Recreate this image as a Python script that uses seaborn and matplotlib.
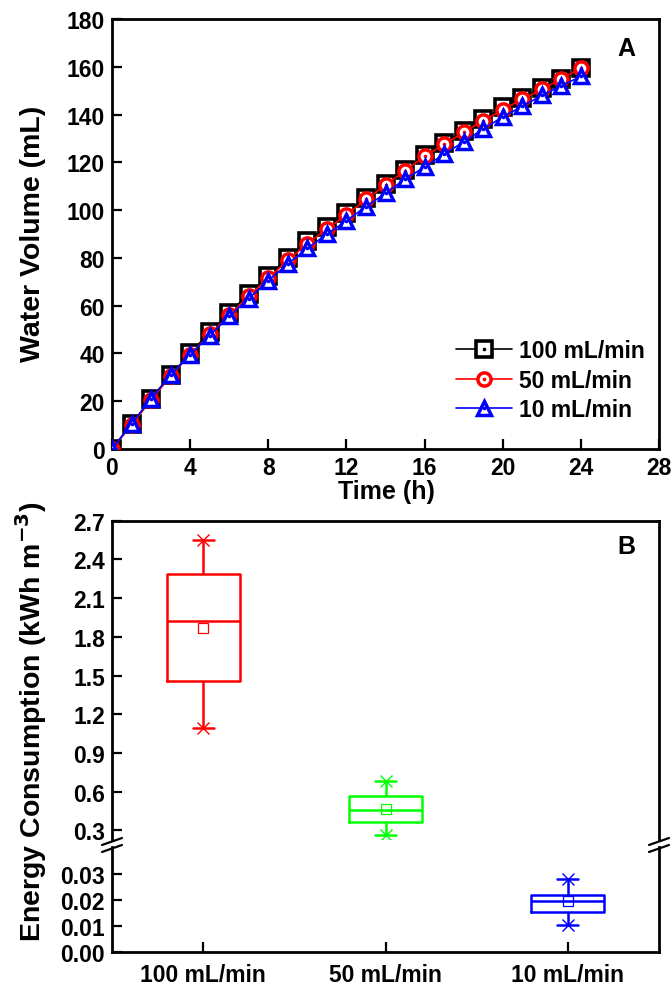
import numpy as np
import pandas as pd
import matplotlib
matplotlib.use("Agg")
import matplotlib.pyplot as plt
import seaborn as sns
from matplotlib.lines import Line2D
from matplotlib.legend_handler import HandlerTuple
from matplotlib.ticker import FormatStrFormatter

# ---------------- data ----------------
time_h = list(range(25))
vol_100 = [0, 10.5, 21, 31, 40, 49, 57, 65, 72.5, 80, 87, 93, 99, 105, 111,
           117, 123, 128, 133, 138, 143, 147, 151, 155, 159.5]
vol_50 = [0, 10, 20.5, 30.5, 39.5, 48, 56, 64, 71.5, 79, 86, 92, 98, 104.5,
          110.5, 116.5, 122.5, 127.5, 132.5, 137.5, 142, 146.5, 150.5, 155, 159.5]
vol_10 = [0, 10.5, 21, 31, 39.5, 47.5, 55.5, 63, 70.5, 77.5, 84, 90, 95.5,
          101.5, 107, 113, 118, 123.5, 128.5, 134, 139, 143.5, 148, 152, 156]

flow_labels = ["100 mL/min", "50 mL/min", "10 mL/min"]
e_min = [1.096, 0.268, 0.0105]
e_q1 = [1.456, 0.367, 0.0153]
e_med = [1.925, 0.458, 0.0195]
e_q3 = [2.290, 0.568, 0.0220]
e_max = [2.548, 0.685, 0.0281]
e_mean = [1.868, 0.470, 0.0195]

line_colors = ["#000000", "#FF0000", "#0000FF"]
box_colors = ["#FF0000", "#00FF00", "#0000FF"]

# ---------------- style ----------------
sns.set_style("ticks")
plt.rcParams["font.family"] = ["Liberation Sans", "DejaVu Sans"]
plt.rcParams["font.weight"] = "bold"
plt.rcParams["axes.labelweight"] = "bold"
plt.rcParams["mathtext.default"] = "bf"
plt.rcParams["text.color"] = "black"
plt.rcParams["axes.labelcolor"] = "black"
plt.rcParams["xtick.color"] = "black"
plt.rcParams["ytick.color"] = "black"
plt.rcParams["xtick.labelcolor"] = "black"
plt.rcParams["ytick.labelcolor"] = "black"

W, H = 672, 987
fig = plt.figure(figsize=(W / 100, H / 100), dpi=100)

def fx(px):
    return px / W

def fy(py):
    return 1 - py / H

TICK_FS = 16.5
XLABEL_FS = 18
YLABEL_FS = 20.5

def style_axis(ax):
    for s in ax.spines.values():
        s.set_linewidth(2.0)
        s.set_color("black")
    ax.tick_params(direction="in", length=7, width=1.6, labelsize=TICK_FS,
                   colors="black", pad=5)
    for lab in ax.get_xticklabels() + ax.get_yticklabels():
        lab.set_fontweight("bold")

# ---------------- panel A ----------------
L, R = 112, 659
axA = fig.add_axes([fx(L), fy(450), fx(R) - fx(L), fy(20) - fy(450)])

dfA = pd.DataFrame({"time": time_h * 3,
                    "vol": vol_100 + vol_50 + vol_10,
                    "flow": [flow_labels[0]] * 25 + [flow_labels[1]] * 25 + [flow_labels[2]] * 25})

marker_specs = [("s", 12, 2.6), ("o", 9.5, 2.5), ("^", 10.5, 2.5)]
handles = []
for lab, col, (mk, ms, mew) in zip(flow_labels, line_colors, marker_specs):
    sub = dfA[dfA["flow"] == lab]
    sns.lineplot(data=sub, x="time", y="vol", ax=axA, color=col, lw=1.2,
                 marker=mk, markersize=ms, markeredgewidth=mew,
                 markerfacecolor="white", markeredgecolor=col, legend=False,
                 zorder=3)
    sns.lineplot(data=sub, x="time", y="vol", ax=axA, color=col, lw=0,
                 marker="o", markersize=2.6, markeredgewidth=0,
                 markerfacecolor=col, legend=False, zorder=3)
    h1 = Line2D([], [], color=col, lw=1.2, marker=mk, markersize=ms,
                markeredgewidth=mew, markerfacecolor="white", markeredgecolor=col)
    h2 = Line2D([], [], color=col, lw=0, marker="o", markersize=2.6,
                markeredgewidth=0, markerfacecolor=col)
    handles.append((h1, h2))

axA.set_xlim(0, 28)
axA.set_ylim(0, 180)
axA.set_xticks(range(0, 29, 4))
axA.set_yticks(range(0, 181, 20))
axA.set_xlabel("")
axA.set_ylabel("")
style_axis(axA)
leg = axA.legend(handles, flow_labels, handler_map={tuple: HandlerTuple(ndivide=1)},
                 loc="upper left", bbox_to_anchor=(0.628, 0.255), frameon=False,
                 borderpad=0, borderaxespad=0, handlelength=2.45,
                 handletextpad=0.33, labelspacing=0.28,
                 prop={"weight": "bold", "size": TICK_FS})
axA.text(0.94, 0.933, "A", transform=axA.transAxes, fontsize=18,
         fontweight="bold", ha="center", va="center")

fig.text(fx(386), fy(492), "Time (h)", fontsize=XLABEL_FS, fontweight="bold",
         ha="center", va="center")
fig.text(fx(33), fy(234), "Water Volume (mL)", fontsize=YLABEL_FS,
         fontweight="bold", rotation=90, ha="center", va="center")

# ---------------- panel B (broken axis) ----------------
axBu = fig.add_axes([fx(L), fy(840), fx(R) - fx(L), fy(521.6) - fy(840)])
axBl = fig.add_axes([fx(L), fy(953), fx(R) - fx(L), fy(848) - fy(953)])

dfB = pd.DataFrame({
    "flow": [f for f in flow_labels for _ in range(5)],
    "val": [v for i in range(3) for v in (e_min[i], e_q1[i], e_med[i], e_q3[i], e_max[i])],
})
dfMean = pd.DataFrame({"flow": flow_labels, "val": e_mean})
dfMin = pd.DataFrame({"flow": flow_labels, "val": e_min})
dfMax = pd.DataFrame({"flow": flow_labels, "val": e_max})

def draw_boxes(ax):
    sns.boxplot(data=dfB, x="flow", y="val", hue="flow", order=flow_labels,
                hue_order=flow_labels, palette=box_colors, fill=False,
                whis=(0, 100), width=0.4, linewidth=1.8, legend=False, ax=ax,
                capwidths=0.115, showfliers=False)
    n0 = len(ax.lines)
    for d, mk, ms, mew in ((dfMean, "s", 7, 0.9), (dfMin, "x", 9, 1.0), (dfMax, "x", 9, 1.0)):
        sns.pointplot(data=d, x="flow", y="val", hue="flow", order=flow_labels,
                      hue_order=flow_labels, palette=box_colors, markers=mk,
                      linestyles="none", errorbar=None, legend=False, ax=ax,
                      markersize=ms, markeredgewidth=mew)
    for ln in ax.lines[n0:]:
        ln.set_markerfacecolor("none")
        ln.set_markeredgecolor(ln.get_color())
        ln.set_clip_on(True)

draw_boxes(axBu)
draw_boxes(axBl)

for ax in (axBu, axBl):
    ax.set_xlim(-0.5, 2.5)
    ax.set_xlabel("")
    ax.set_ylabel("")
    style_axis(ax)

axBu.set_ylim(0.234, 2.7)
axBu.set_yticks(np.arange(0.3, 2.71, 0.3))
axBu.yaxis.set_major_formatter(FormatStrFormatter("%.1f"))
axBu.spines["bottom"].set_visible(False)
axBu.tick_params(axis="x", bottom=False, labelbottom=False)

axBl.set_ylim(0, 0.0404)
axBl.set_yticks([0, 0.01, 0.02, 0.03])
axBl.yaxis.set_major_formatter(FormatStrFormatter("%.2f"))
axBl.spines["top"].set_visible(False)
axBl.set_xticks(range(3))
axBl.set_xticklabels(flow_labels, fontweight="bold")
axBl.tick_params(axis="x", pad=8)

axBu.text(0.94, 0.92, "B", transform=axBu.transAxes, fontsize=18,
          fontweight="bold", ha="center", va="center")

fig.text(fx(31), fy(722), "Energy Consumption (kWh m$^{\\mathbf{-3}}$)", fontsize=YLABEL_FS,
         fontweight="bold", rotation=90, ha="center", va="center")

# break marks
for xs in (L, R):
    for y0 in (846, 853):
        fig.add_artist(Line2D([fx(xs - 10), fx(xs + 10)], [fy(y0), fy(y0 - 7)],
                              color="black", lw=1.6, transform=fig.transFigure))

fig.savefig("out.png", dpi=100)
